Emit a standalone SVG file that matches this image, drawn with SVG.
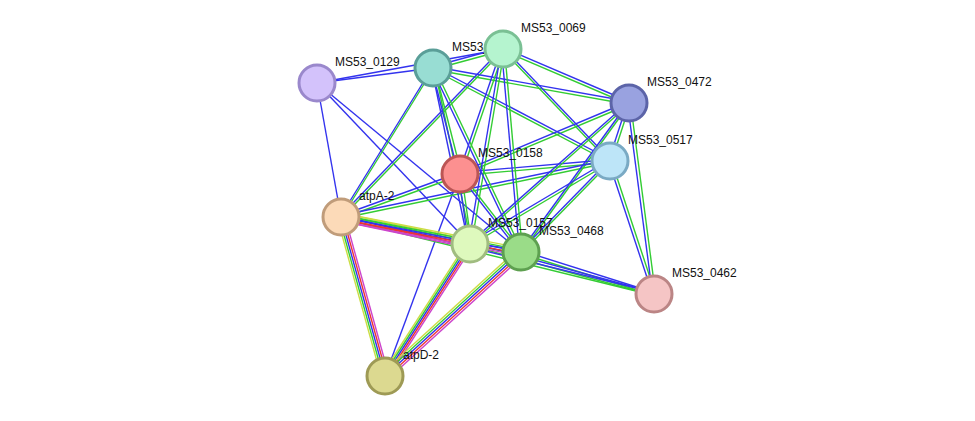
<svg xmlns="http://www.w3.org/2000/svg" width="975" height="421" viewBox="0 0 975 421">
<style>
line{stroke-width:1.4}
.b{stroke:#3333ee}.g{stroke:#33cc33}.r{stroke:#ee3333}.m{stroke:#cc44cc}.y{stroke:#ccdd44}
.n{stroke-width:3}
text{font-family:"Liberation Sans",Arial,sans-serif;font-size:12px;fill:#111}
</style>
<rect width="975" height="421" fill="#fff"/>
<g id="connectors">
<line class="b" x1="317" y1="83" x2="433" y2="68"/>
<line class="b" x1="317" y1="83" x2="503" y2="49"/>
<line class="b" x1="317" y1="83" x2="341" y2="217"/>
<line class="b" x1="317" y1="83" x2="470" y2="244"/>
<line class="b" x1="317" y1="83" x2="521" y2="252"/>
<line class="b" x1="460" y1="174" x2="385" y2="376"/>
<g transform="translate(0,1.5)" class="gg">
<line class="g" x1="433" y1="68" x2="503" y2="49"/>
<line class="g" x1="433" y1="68" x2="629" y2="103"/>
<line class="g" x1="433" y1="68" x2="610" y2="161"/>
<line class="g" x1="503" y1="49" x2="629" y2="103"/>
<line class="g" x1="503" y1="49" x2="610" y2="161"/>
<line class="g" x1="629" y1="103" x2="460" y2="174"/>
<line class="g" x1="629" y1="103" x2="521" y2="252"/>
<line class="g" x1="610" y1="161" x2="460" y2="174"/>
<line class="g" x1="610" y1="161" x2="341" y2="217"/>
<line class="g" x1="610" y1="161" x2="470" y2="244"/>
<line class="g" x1="610" y1="161" x2="521" y2="252"/>
<line class="g" x1="460" y1="174" x2="341" y2="217"/>
<line class="g" x1="341" y1="217" x2="654" y2="294"/>
<line class="g" x1="470" y1="244" x2="654" y2="294"/>
<line class="g" x1="521" y1="252" x2="654" y2="294"/>
<line class="g" x1="470" y1="244" x2="521" y2="252"/>
<line class="g" x1="503" y1="49" x2="341" y2="217"/>
<line class="g" x1="433" y1="68" x2="341" y2="217"/>
</g>
<g transform="translate(0,-1.5)">
<line class="b" x1="433" y1="68" x2="503" y2="49"/>
<line class="b" x1="433" y1="68" x2="629" y2="103"/>
<line class="b" x1="433" y1="68" x2="610" y2="161"/>
<line class="b" x1="503" y1="49" x2="629" y2="103"/>
<line class="b" x1="503" y1="49" x2="610" y2="161"/>
<line class="b" x1="629" y1="103" x2="460" y2="174"/>
<line class="b" x1="629" y1="103" x2="521" y2="252"/>
<line class="b" x1="610" y1="161" x2="460" y2="174"/>
<line class="b" x1="610" y1="161" x2="341" y2="217"/>
<line class="b" x1="610" y1="161" x2="470" y2="244"/>
<line class="b" x1="610" y1="161" x2="521" y2="252"/>
<line class="b" x1="460" y1="174" x2="341" y2="217"/>
<line class="b" x1="341" y1="217" x2="654" y2="294"/>
<line class="b" x1="470" y1="244" x2="654" y2="294"/>
<line class="b" x1="521" y1="252" x2="654" y2="294"/>
<line class="b" x1="470" y1="244" x2="521" y2="252"/>
<line class="b" x1="503" y1="49" x2="341" y2="217"/>
<line class="b" x1="433" y1="68" x2="341" y2="217"/>
</g>
<g transform="translate(1.5,0)">
<line class="g" x1="433" y1="68" x2="460" y2="174"/>
<line class="g" x1="433" y1="68" x2="470" y2="244"/>
<line class="g" x1="433" y1="68" x2="521" y2="252"/>
<line class="g" x1="503" y1="49" x2="460" y2="174"/>
<line class="g" x1="503" y1="49" x2="470" y2="244"/>
<line class="g" x1="503" y1="49" x2="521" y2="252"/>
<line class="g" x1="629" y1="103" x2="610" y2="161"/>
<line class="g" x1="629" y1="103" x2="654" y2="294"/>
<line class="g" x1="629" y1="103" x2="470" y2="244"/>
<line class="g" x1="610" y1="161" x2="654" y2="294"/>
<line class="g" x1="460" y1="174" x2="470" y2="244"/>
<line class="g" x1="460" y1="174" x2="521" y2="252"/>
</g>
<g transform="translate(-1.5,0)">
<line class="b" x1="433" y1="68" x2="460" y2="174"/>
<line class="b" x1="433" y1="68" x2="470" y2="244"/>
<line class="b" x1="433" y1="68" x2="521" y2="252"/>
<line class="b" x1="503" y1="49" x2="460" y2="174"/>
<line class="b" x1="503" y1="49" x2="470" y2="244"/>
<line class="b" x1="503" y1="49" x2="521" y2="252"/>
<line class="b" x1="629" y1="103" x2="610" y2="161"/>
<line class="b" x1="629" y1="103" x2="654" y2="294"/>
<line class="b" x1="629" y1="103" x2="470" y2="244"/>
<line class="b" x1="610" y1="161" x2="654" y2="294"/>
<line class="b" x1="460" y1="174" x2="470" y2="244"/>
<line class="b" x1="460" y1="174" x2="521" y2="252"/>
</g>
<g>
<line class="y" x1="341" y1="213" x2="470" y2="240"/>
<line class="g" x1="341" y1="215" x2="470" y2="242"/>
<line class="b" x1="341" y1="217" x2="470" y2="244"/>
<line class="r" x1="341" y1="219" x2="470" y2="246"/>
<line class="m" x1="341" y1="221" x2="470" y2="248"/>
<line class="y" x1="341" y1="213" x2="521" y2="248"/>
<line class="g" x1="341" y1="215" x2="521" y2="250"/>
<line class="b" x1="341" y1="217" x2="521" y2="252"/>
<line class="r" x1="341" y1="219" x2="521" y2="254"/>
<line class="m" x1="341" y1="221" x2="521" y2="256"/>
<line class="y" x1="337" y1="217" x2="381" y2="376"/>
<line class="g" x1="339" y1="217" x2="383" y2="376"/>
<line class="b" x1="341" y1="217" x2="385" y2="376"/>
<line class="r" x1="343" y1="217" x2="387" y2="376"/>
<line class="m" x1="345" y1="217" x2="389" y2="376"/>
<line class="y" x1="466" y1="244" x2="381" y2="376"/>
<line class="g" x1="468" y1="244" x2="383" y2="376"/>
<line class="b" x1="470" y1="244" x2="385" y2="376"/>
<line class="r" x1="472" y1="244" x2="387" y2="376"/>
<line class="m" x1="474" y1="244" x2="389" y2="376"/>
<line class="y" x1="518" y1="249" x2="382" y2="373"/>
<line class="g" x1="519.5" y1="250.5" x2="383.5" y2="374.5"/>
<line class="b" x1="521" y1="252" x2="385" y2="376"/>
<line class="r" x1="522.5" y1="253.5" x2="386.5" y2="377.5"/>
<line class="m" x1="524" y1="255" x2="388" y2="379"/>
</g>
</g>
<g id="MS53_0129"><circle class="n" cx="317" cy="83" r="18" fill="#d3c2fb" stroke="#9a88cc"/><text x="335" y="66">MS53_0129</text></g>
<g id="MS53_0070"><circle class="n" cx="433" cy="68" r="18" fill="#98ddd3" stroke="#5a9e98"/><text x="452" y="51">MS53_0070</text></g>
<g id="MS53_0069"><circle class="n" cx="503" cy="49" r="18" fill="#b5f4cf" stroke="#7ac094"/><text x="521" y="32">MS53_0069</text></g>
<g id="MS53_0472"><circle class="n" cx="629" cy="103" r="18" fill="#99a2e0" stroke="#5c64a8"/><text x="647" y="86">MS53_0472</text></g>
<g id="MS53_0517"><circle class="n" cx="610" cy="161" r="18" fill="#bde5f8" stroke="#7aaac4"/><text x="628" y="144">MS53_0517</text></g>
<g id="MS53_0158"><circle class="n" cx="460" cy="174" r="18" fill="#fc9090" stroke="#bb5555"/><text x="478" y="157">MS53_0158</text></g>
<g id="atpA-2"><circle class="n" cx="341" cy="217" r="18" fill="#fcdab8" stroke="#c09c7a"/><text x="359" y="200">atpA-2</text></g>
<g id="MS53_0157"><circle class="n" cx="470" cy="244" r="18" fill="#def9bd" stroke="#a0bc80"/><text x="488" y="227">MS53_0157</text></g>
<g id="MS53_0468"><circle class="n" cx="521" cy="252" r="18" fill="#9adc88" stroke="#5ea050"/><text x="539" y="235">MS53_0468</text></g>
<g id="MS53_0462"><circle class="n" cx="654" cy="294" r="18" fill="#f5c5c5" stroke="#bb8585"/><text x="672" y="277">MS53_0462</text></g>
<g id="atpD-2"><circle class="n" cx="385" cy="376" r="18" fill="#dcd990" stroke="#9e9a55"/><text x="403" y="359">atpD-2</text></g>
</svg>
